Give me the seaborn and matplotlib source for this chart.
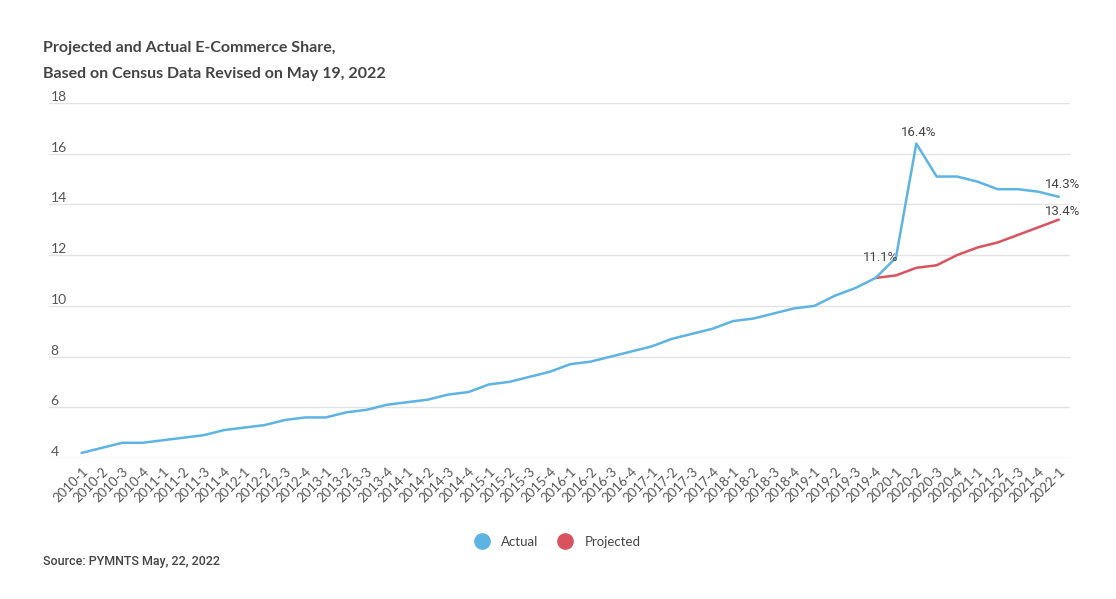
import numpy as np
import pandas as pd
import matplotlib.pyplot as plt
from matplotlib.lines import Line2D
import seaborn as sns

# quarters on the x axis
quarters = [
    "2010-1", "2010-2", "2010-3", "2010-4", "2011-1", "2011-2", "2011-3", "2011-4",
    "2012-1", "2012-2", "2012-3", "2012-4", "2013-1", "2013-2", "2013-3", "2013-4",
    "2014-1", "2014-2", "2014-3", "2014-4", "2015-1", "2015-2", "2015-3", "2015-4",
    "2016-1", "2016-2", "2016-3", "2016-4", "2017-1", "2017-2", "2017-3", "2017-4",
    "2018-1", "2018-2", "2018-3", "2018-4", "2019-1", "2019-2", "2019-3", "2019-4",
    "2020-1", "2020-2", "2020-3", "2020-4", "2021-1", "2021-2", "2021-3", "2021-4",
    "2022-1",
]

# e-commerce share, percent
actual = [
    4.2, 4.4, 4.6, 4.6, 4.7, 4.8, 4.9, 5.1,
    5.2, 5.3, 5.5, 5.6, 5.6, 5.8, 5.9, 6.1,
    6.2, 6.3, 6.5, 6.6, 6.9, 7.0, 7.2, 7.4,
    7.7, 7.8, 8.0, 8.2, 8.4, 8.7, 8.9, 9.1,
    9.4, 9.5, 9.7, 9.9, 10.0, 10.4, 10.7, 11.1,
    11.9, 16.4, 15.1, 15.1, 14.9, 14.6, 14.6, 14.5,
    14.3,
]
projected = [np.nan] * 39 + [11.1, 11.2, 11.5, 11.6, 12.0, 12.3, 12.5, 12.8, 13.1, 13.4]

yticks = [4, 6, 8, 10, 12, 14, 16, 18]

BLUE = "#5db4e2"
RED = "#d9535f"
TXT = "#444444"

df = pd.DataFrame({"q": range(len(quarters)), "Actual": actual, "Projected": projected})

sns.set_style("white")
plt.rcParams["font.family"] = ["Lato", "DejaVu Sans"]

fig = plt.figure(figsize=(11.16, 5.99), dpi=100)
ax = fig.add_axes([49 / 1116, 1 - 458 / 599, (1070 - 49) / 1116, (458 - 103) / 599])

sns.lineplot(data=df, x="q", y="Projected", color=RED, lw=1.8, ax=ax)
sns.lineplot(data=df, x="q", y="Actual", color=BLUE, lw=1.8, ax=ax)

ax.set_xlim(-1.6, 48.55)
ax.set_ylim(4, 18)
ax.set_yticks(yticks)
ax.set_xticks(range(len(quarters)))
ax.set_xticklabels(quarters, rotation=45, ha="right", rotation_mode="anchor",
                   fontsize=9.5, color="#555555")
ax.set_xlabel("")
ax.set_ylabel("")
ax.grid(axis="y", color="#e3e3e3", lw=1)
ax.grid(axis="x", visible=False)
for s in ax.spines.values():
    s.set_visible(False)
ax.tick_params(axis="x", length=0, pad=5)
ax.tick_params(axis="y", length=0, pad=-1, labelsize=10, labelcolor="#555555")
for lab in ax.get_yticklabels():
    lab.set_ha("left")
    lab.set_va("bottom")

# value labels
labels = [
    (39, actual[39], (5, 20)),
    (41, actual[41], (2, 11)),
    (48, actual[48], (4, 12)),
    (48, projected[48], (4, 8)),
]
for xi, val, off in labels:
    ax.annotate(f"{val:.1f}%", (xi, val), xytext=off, textcoords="offset pixels",
                ha="center", va="center", fontsize=9.5, color=TXT,
                family=["Roboto", "DejaVu Sans"])

fig.text(43 / 1116, 1 - 48 / 599, "Projected and Actual E-Commerce Share,",
         ha="left", va="center", fontsize=11.5, weight="bold", color=TXT)
fig.text(43 / 1116, 1 - 74 / 599, "Based on Census Data Revised on May 19, 2022",
         ha="left", va="center", fontsize=11.5, weight="bold", color=TXT)

fig.text(43 / 1116, 1 - 562 / 599, "Source: PYMNTS May, 22, 2022", ha="left", va="center",
         fontsize=9, weight="medium", color=TXT, family=["Roboto", "DejaVu Sans"])

handles = [
    Line2D([], [], ls="none", marker="o", ms=11, color=BLUE, label="Actual"),
    Line2D([], [], ls="none", marker="o", ms=11, color=RED, label="Projected"),
]
leg = fig.legend(handles=handles, loc="center", bbox_to_anchor=(0.497, 1 - 542 / 599),
                 ncol=2, frameon=False, fontsize=9.5, handletextpad=0.5, columnspacing=1.0)
for t in leg.get_texts():
    t.set_color(TXT)

fig.savefig("out.png", dpi=100)
